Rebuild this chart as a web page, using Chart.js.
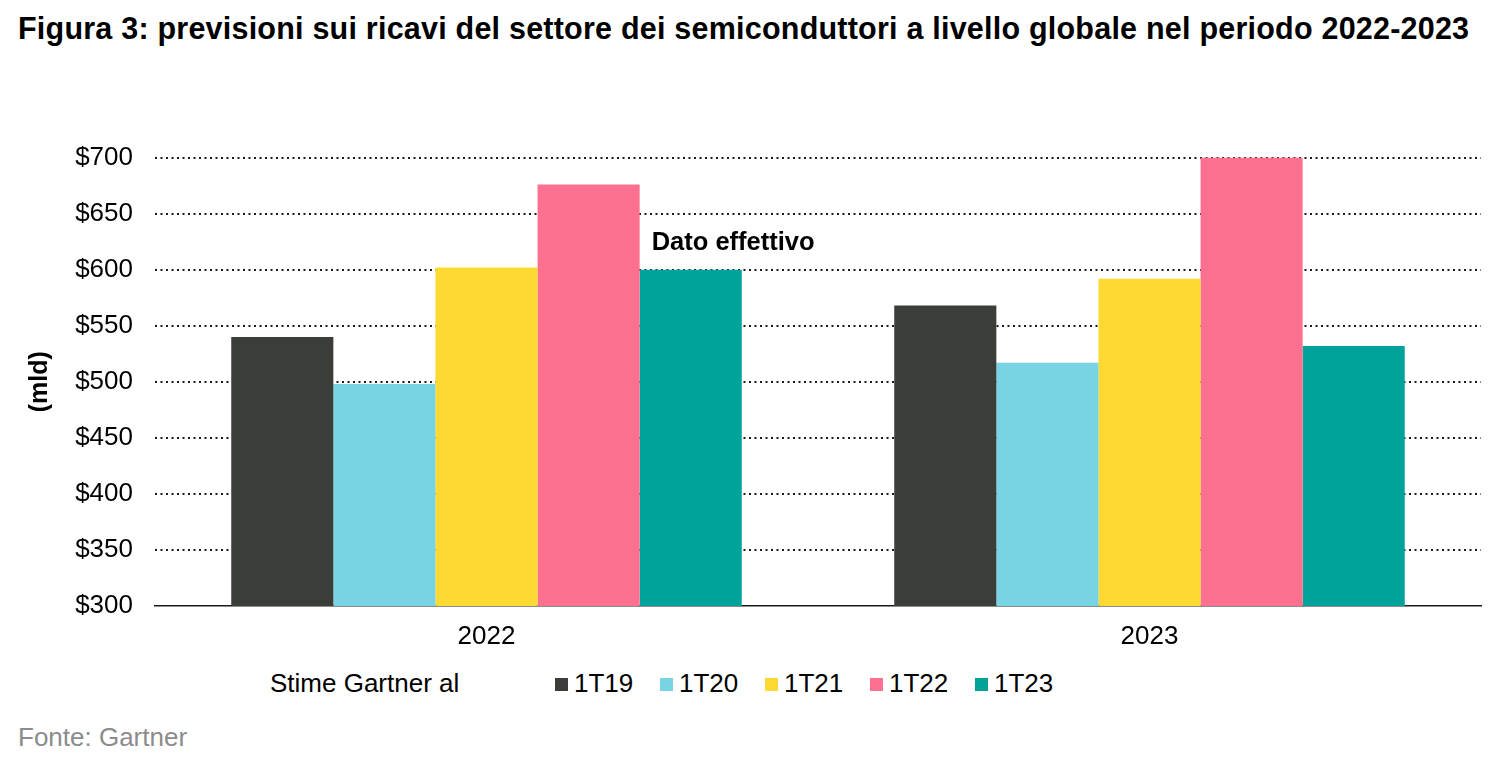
<!DOCTYPE html>
<html>
<head>
<meta charset="utf-8">
<script src="https://cdn.jsdelivr.net/npm/chart.js@4.4.1/dist/chart.umd.min.js"></script>
<style>
  html, body { margin: 0; padding: 0; background: #fff; }
  body { width: 1500px; height: 766px; position: relative; overflow: hidden; font-family: "Liberation Sans", Arial, sans-serif; }
  #title { position: absolute; left: 18px; top: 10px; font-size: 30.5px; font-weight: bold; color: #000; white-space: nowrap; line-height: 36px; letter-spacing: 0.22px; }
  #wrap { position: absolute; left: 0; top: 120px; width: 1500px; height: 540px; }
  #legend { position: absolute; left: 0; top: 667px; width: 1500px; height: 32px; font-size: 26px; color: #000; }
  #legend .lbl { position: absolute; left: 270px; top: 0; line-height: 32px; white-space: nowrap; }
  #legend .item { position: absolute; top: 0; line-height: 32px; white-space: nowrap; }
  #legend .sw { display: inline-block; width: 13px; height: 13px; margin-right: 6px; vertical-align: 1px; }
  #source { position: absolute; left: 18px; top: 721px; font-size: 26px; color: #8c8c8c; line-height: 32px; }
</style>
</head>
<body>
<div id="title">Figura 3: previsioni sui ricavi del settore dei semiconduttori a livello globale nel periodo 2022-2023</div>
<div id="wrap"><canvas id="c"></canvas></div>
<div id="legend"><span class="lbl">Stime Gartner al</span></div>
<div id="source">Fonte: Gartner</div>
<script>
const categories = ["2022", "2023"];
const seriesNames = ["1T19", "1T20", "1T21", "1T22", "1T23"];
const s1T19 = [540, 568];
const s1T20 = [498, 517];
const s1T21 = [602, 592];
const s1T22 = [676, 700];
const s1T23 = [600, 532];
const yTicks = [300, 350, 400, 450, 500, 550, 600, 650, 700];
const colors = ["#3b3d39", "#78d3e5", "#fed932", "#fd7090", "#00a39a"];
const annotationText = "Dato effettivo";

const seriesValues = [s1T19, s1T20, s1T21, s1T22, s1T23];
const FONT = '"Liberation Sans", Arial, sans-serif';

// HTML legend
const leg = document.getElementById('legend');
seriesNames.forEach((n, i) => {
  const it = document.createElement('span');
  it.className = 'item';
  it.style.left = (555 + i * 105) + 'px';
  it.innerHTML = '<span class="sw" style="background:' + colors[i] + '"></span>' + n;
  leg.appendChild(it);
});

const annotationPlugin = {
  id: 'dato',
  afterDatasetsDraw(chart) {
    const meta = chart.getDatasetMeta(4);
    const el = meta.data[0];
    if (!el) return;
    const ctx = chart.ctx;
    ctx.save();
    ctx.font = 'bold 25.5px ' + FONT;
    ctx.fillStyle = '#000';
    ctx.textAlign = 'left';
    ctx.textBaseline = 'alphabetic';
    ctx.fillText(annotationText, el.x - el.width / 2 + 12, el.y - 20);
    ctx.restore();
  }
};

new Chart(document.getElementById('c'), {
  type: 'bar',
  data: {
    labels: categories,
    datasets: seriesNames.map((n, i) => ({
      label: n,
      data: seriesValues[i],
      backgroundColor: colors[i],
      borderWidth: 0,
      categoryPercentage: 0.77,
      barPercentage: 1.0
    }))
  },
  options: {
    responsive: true,
    maintainAspectRatio: false,
    animation: false,
    layout: { padding: { left: 0, right: 19, top: 37, bottom: 0 } },
    plugins: {
      legend: { display: false },
      tooltip: { enabled: false },
      title: { display: false }
    },
    scales: {
      x: {
        grid: { display: false, drawTicks: false },
        border: { display: true, color: '#1a1a1a', width: 1.5 },
        ticks: { color: '#000', font: { family: FONT, size: 26 }, padding: 15 },
        afterFit(scale) { scale.height = 54; }
      },
      y: {
        min: 300,
        max: 700,
        afterBuildTicks(scale) { scale.ticks = yTicks.map(v => ({ value: v })); },
        grid: {
          drawTicks: false,
          lineWidth: 2,
          color: (ctx) => (ctx.tick && ctx.tick.value === 300) ? 'rgba(0,0,0,0)' : '#1a1a1a'
        },
        border: { display: false, dash: [2, 3.5] },
        ticks: {
          color: '#000',
          font: { family: FONT, size: 26 },
          padding: 22,
          callback: (v) => '$' + v
        },
        title: {
          display: true,
          text: '(mld)',
          color: '#000',
          font: { family: FONT, size: 25, weight: 'bold' },
          padding: { top: 25, bottom: 0 }
        },
        afterFit(scale) { scale.width = 155; }
      }
    }
  },
  plugins: [annotationPlugin]
});
</script>
</body>
</html>
